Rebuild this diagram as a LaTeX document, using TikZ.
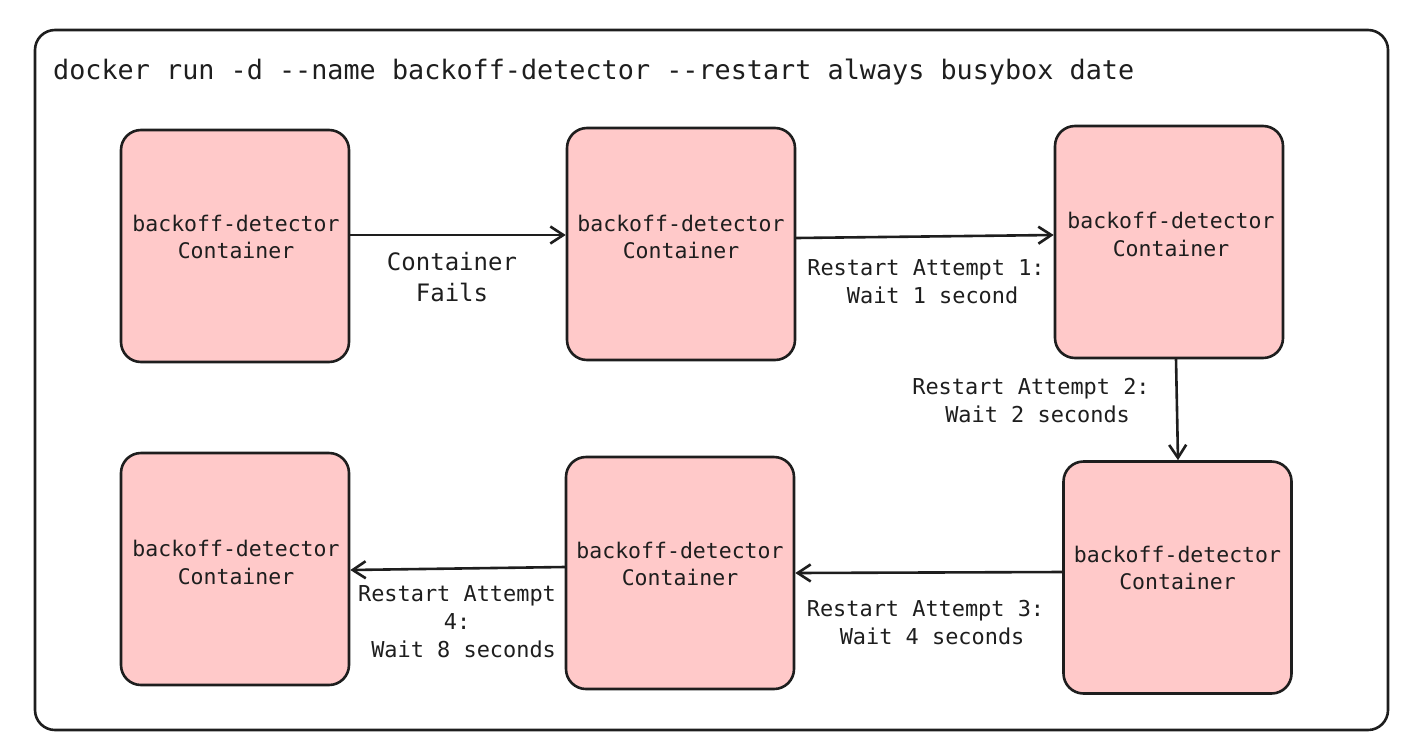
\documentclass[tikz,border=0pt]{standalone}
\usepackage{fontspec}
\setmonofont{DejaVu Sans Mono}
\usetikzlibrary{arrows.meta,calc}
\definecolor{boxfill}{HTML}{FFC9C9}
\definecolor{ink}{HTML}{1E1E1E}
\tikzset{
  cbox/.style={draw=ink, fill=boxfill, line width=2.6pt, rounded corners=20pt,
    minimum width=228pt, minimum height=232pt, inner sep=0pt},
  ctext/.style={align=center, text=ink, inner sep=0pt,
    font=\ttfamily\fontsize{21.5}{27.5}\selectfont},
  lbl/.style={align=center, text=ink, inner sep=0pt,
    font=\ttfamily\fontsize{21.9}{28}\selectfont},
  conn/.style={draw=ink, line width=2.6pt, line cap=round,
    -{Straight Barb[length=13pt,width=17pt,line width=2.6pt]}},
}
\begin{document}
\begin{tikzpicture}[x=1pt,y=-1pt]
\useasboundingbox (0,0) rectangle (1420,755);
\node[draw=ink, line width=2.6pt, rounded corners=20pt, minimum width=1353pt, minimum height=700pt, inner sep=0pt] (frame) at (711.5,380) {};
\node[anchor=west, text=ink, inner sep=0pt, font=\ttfamily\fontsize{26.8}{32}\selectfont] (title) at (53,72) {docker run -d --name backoff-detector --restart always busybox date};

\node[cbox] (b1) at (235,246) {};
\node[cbox] (b2) at (681,244) {};
\node[cbox] (b3) at (1169,242) {};
\node[cbox] (b4) at (1177.5,577.5) {};
\node[cbox] (b5) at (680,573) {};
\node[cbox] (b6) at (235,569) {};

\node[ctext] (t1) at ($(b1.center)+(1,-9)$) {backoff-detector\\Container};
\node[ctext] (t2) at ($(b2.center)+(0,-7)$) {backoff-detector\\Container};
\node[ctext] (t3) at ($(b3.center)+(2,-7.5)$) {backoff-detector\\Container};
\node[ctext] (t4) at ($(b4.center)+(0,-9.5)$) {backoff-detector\\Container};
\node[ctext] (t5) at ($(b5.center)+(0,-9)$) {backoff-detector\\Container};
\node[ctext] (t6) at ($(b6.center)+(1,-6.5)$) {backoff-detector\\Container};

\draw[conn] ($(b1.east)+(0,-11)$) -- ($(b2.west)+(0,-9)$);
\draw[conn] ($(b2.east)+(0,-6)$) -- ($(b3.west)+(0,-7)$);
\draw[conn] ($(b3.south)+(7,0)$) -- ($(b4.north)+(0.5,0)$);
\draw[conn] ($(b4.west)+(0,-5.5)$) -- ($(b5.east)+(0,0)$);
\draw[conn] ($(b5.west)+(0,-6)$) -- ($(b6.east)+(0,1)$);

\node[lbl, font=\ttfamily\fontsize{24}{31}\selectfont] (l1) at (452,277) {Container\\Fails};
\node[lbl] (l2) at (926,282) {Restart Attempt 1:\\\ Wait 1 second};
\node[lbl] (l3) at (1031,401) {Restart Attempt 2:\\\ Wait 2 seconds};
\node[lbl] (l4) at (925.5,623) {Restart Attempt 3:\\\ Wait 4 seconds};
\node[lbl] (l5) at (457,622) {Restart Attempt\\4:\\\ Wait 8 seconds};
\end{tikzpicture}
\end{document}
